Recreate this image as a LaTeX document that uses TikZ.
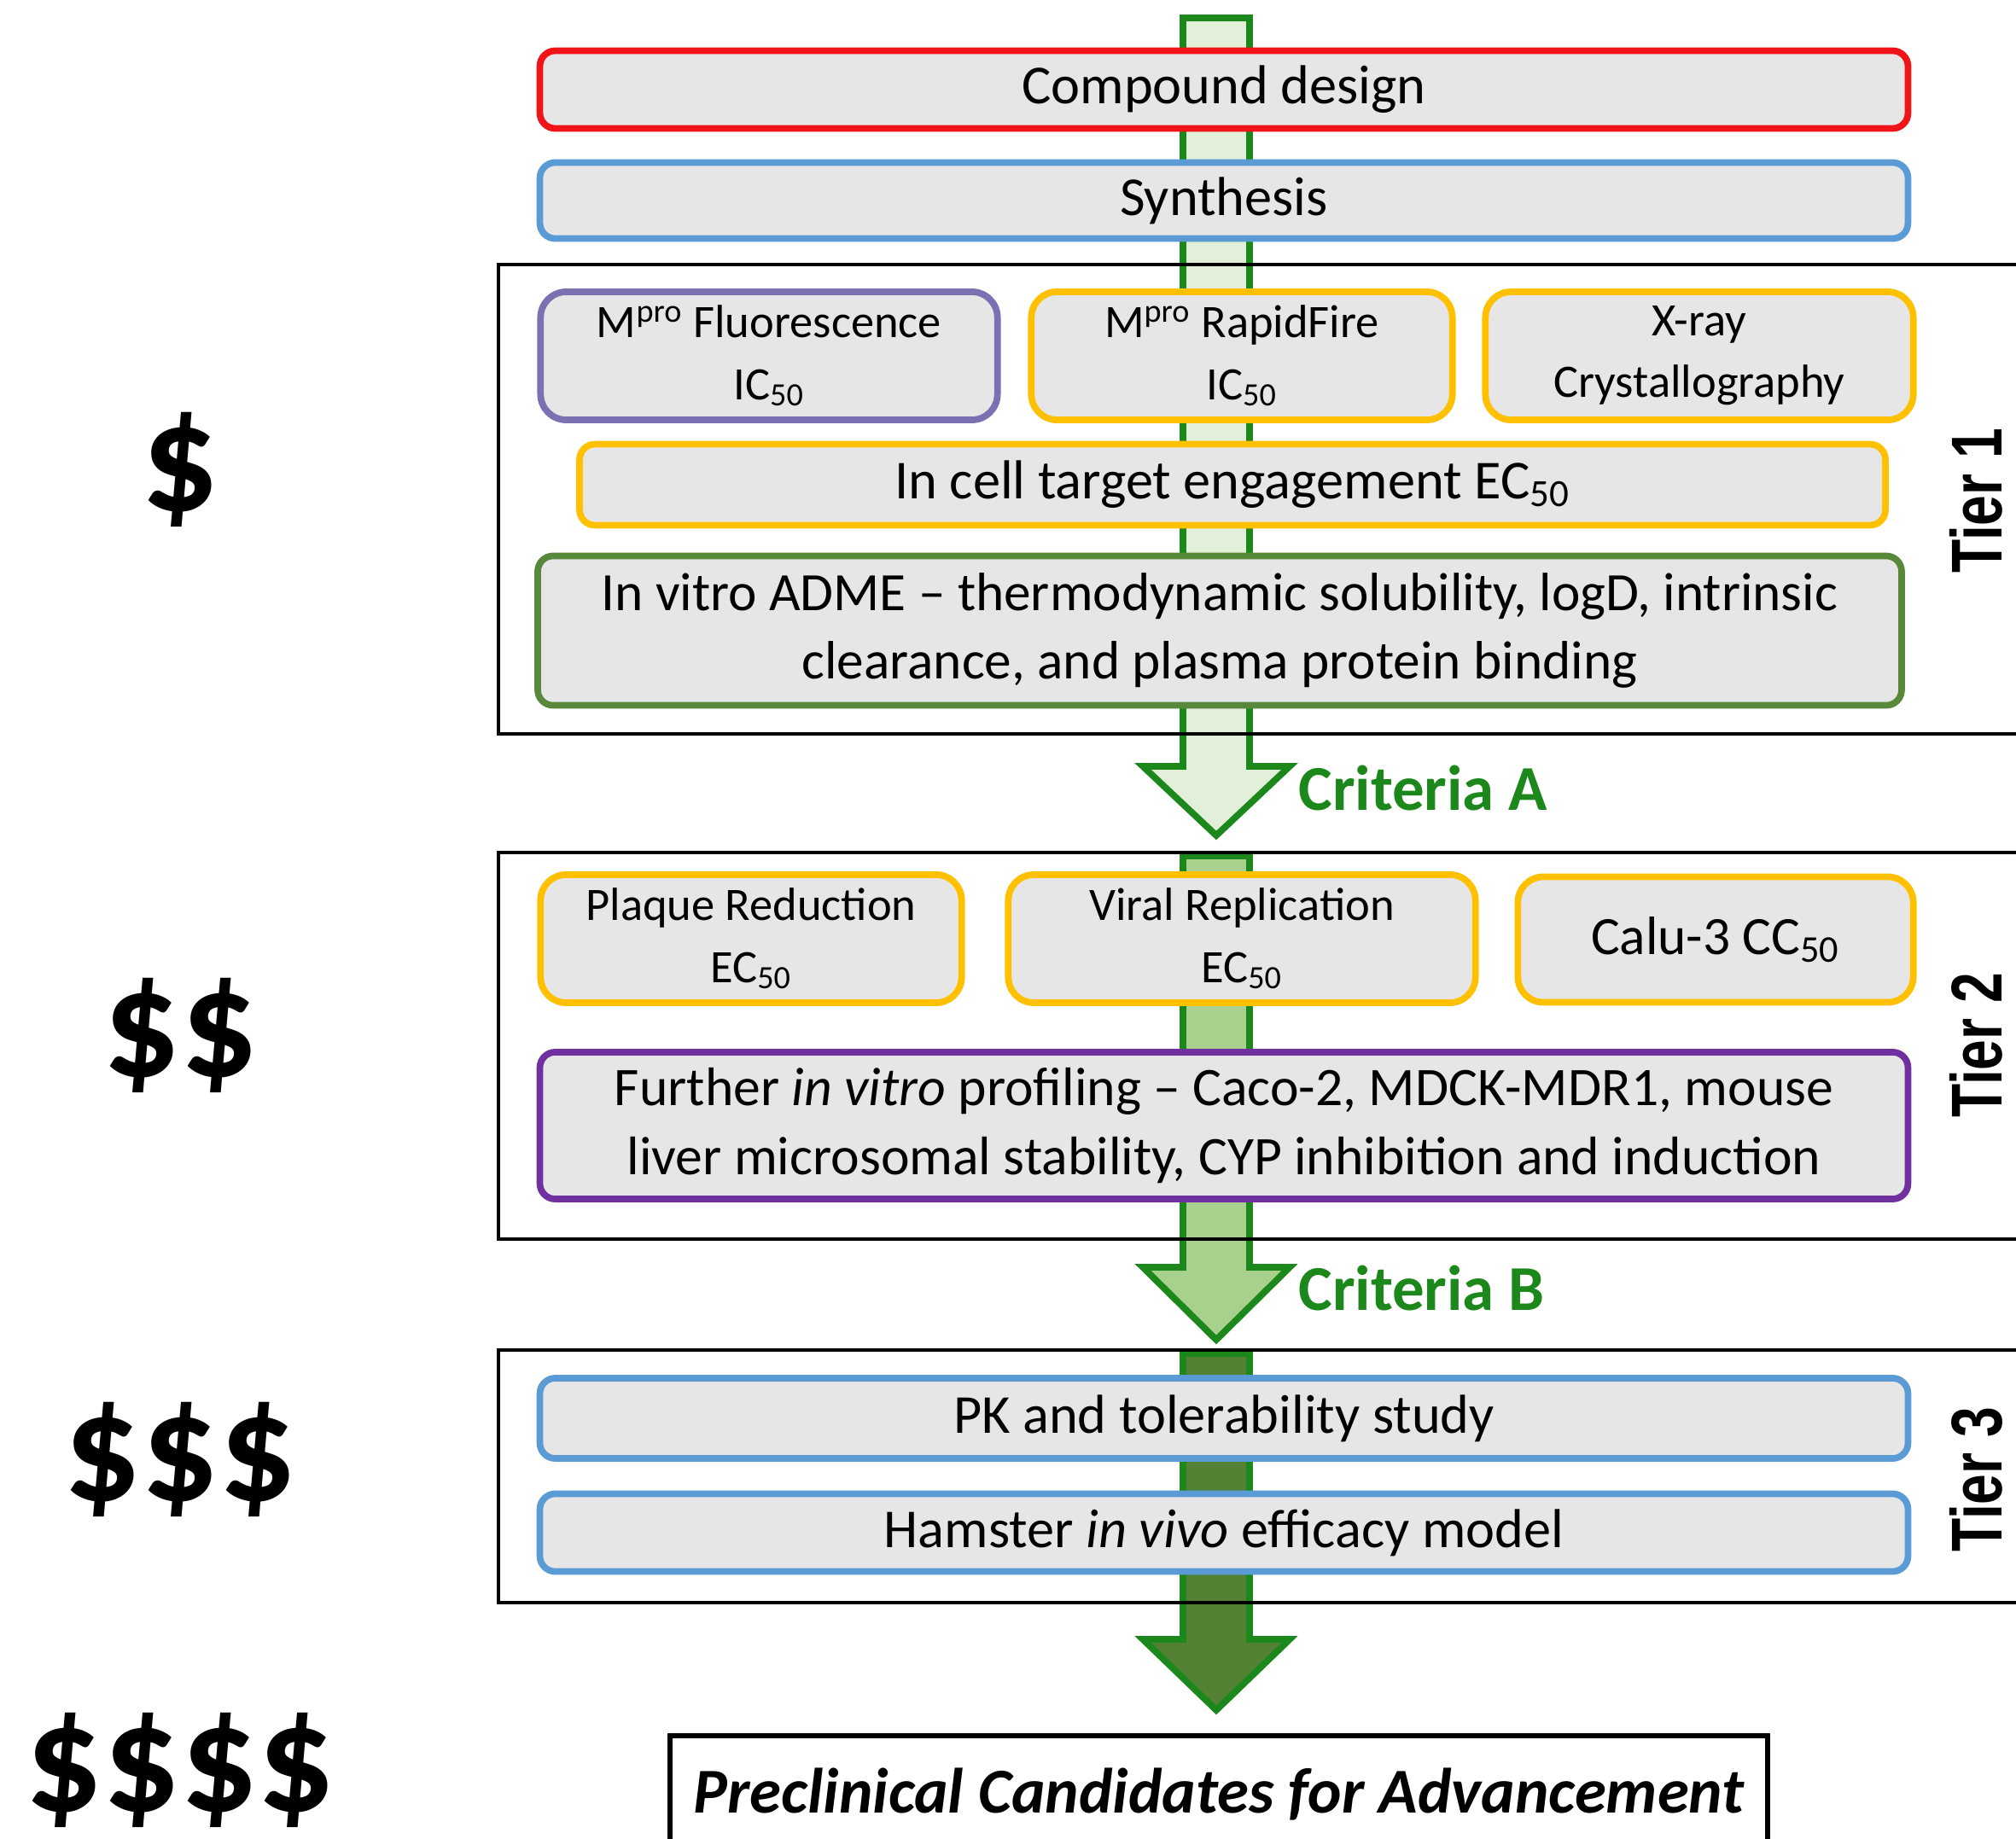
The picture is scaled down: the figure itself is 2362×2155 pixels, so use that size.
\documentclass[tikz,border=0pt]{standalone}
\usepackage{fontspec}
\setmainfont{Carlito}
\newfontfamily\tierfont[FakeStretch=0.76]{Liberation Sans}

\definecolor{boxfill}{RGB}{231,230,230}
\definecolor{designred}{RGB}{240,20,24}
\definecolor{skyblue}{RGB}{91,155,213}
\definecolor{lavender}{RGB}{124,112,178}
\definecolor{amber}{RGB}{255,192,0}
\definecolor{admegreen}{RGB}{88,136,58}
\definecolor{plum}{RGB}{112,48,160}
\definecolor{arrowgreen}{RGB}{28,136,28}
\definecolor{paleshaft}{RGB}{226,240,217}
\definecolor{midshaft}{RGB}{169,209,142}
\definecolor{darkshaft}{RGB}{84,130,53}

\tikzset{
  stage/.style={draw, line width=2.2pt, fill=boxfill, rounded corners=0.18cm,
    align=center, inner sep=0pt, font=\fontsize{18.3}{23}\selectfont},
  assay/.style={stage, rounded corners=0.3cm, font=\fontsize{15.5}{20.5}\selectfont},
  tierbox/.style={draw, line width=1.2pt},
  tierlabel/.style={rotate=90, font=\tierfont\bfseries\fontsize{24}{24}\selectfont},
  cost/.style={font=\bfseries\fontsize{51}{51}\selectfont},
  criteria/.style={anchor=west, text=arrowgreen, font=\bfseries\fontsize{21.3}{22}\selectfont},
  flow/.style={draw=arrowgreen, line width=2.2pt, line join=miter}
}

\begin{document}
\begin{tikzpicture}[x=0.01cm, y=-0.01cm]
      \useasboundingbox (0,0) rectangle (2362,2155);

      % Arrow through all stages
      \filldraw[flow, fill=paleshaft] (1386,21) -- (1464,21) -- (1464,898) -- (1511,898)
        -- (1425,979) -- (1339,898) -- (1386,898) -- cycle;
      \coordinate (headA) at (1511,898);
      \filldraw[flow, fill=midshaft] (1386,1003) -- (1464,1003) -- (1464,1485) -- (1511,1485)
        -- (1425,1570) -- (1339,1485) -- (1386,1485) -- cycle;
      \coordinate (headB) at (1511,1485);
      \filldraw[flow, fill=darkshaft] (1386,1586) -- (1464,1586) -- (1464,1921) -- (1511,1921)
        -- (1425,2004) -- (1339,1921) -- (1386,1921) -- cycle;

      % Tier frames
      \draw[tierbox] (584,310) rectangle (2400,860);
      \draw[tierbox] (584,999) rectangle (2400,1452);
      \draw[tierbox] (584,1582) rectangle (2400,1878);

      % Design and synthesis
      \node[stage, draw=designred, minimum width=16.02cm, minimum height=0.91cm] (design) at (1434,105) {Compound design};
      \node[stage, draw=skyblue, minimum width=16.02cm, minimum height=0.89cm] (synth) at (1434,235) {Synthesis};

      % Tier 1
      \node[assay, draw=lavender, minimum width=5.35cm, minimum height=1.50cm] (fluor) at (901,417) {M\textsuperscript{pro} Fluorescence\\IC\textsubscript{50}};
      \node[assay, draw=amber, minimum width=4.93cm, minimum height=1.50cm] (rapid) at (1455,417) {M\textsuperscript{pro} RapidFire\\IC\textsubscript{50}};
      \node[assay, draw=amber, minimum width=5.01cm, minimum height=1.50cm] (xray) at (1991,417) {X-ray\\Crystallography};
      \node[stage, draw=amber, minimum width=15.29cm, minimum height=0.95cm] (cell) at (1444,568) {In cell target engagement EC\textsubscript{50}};
      \node[stage, draw=admegreen, minimum width=15.97cm, minimum height=1.75cm, font=\fontsize{18}{23}\selectfont] (adme) at (1429,739) {In vitro ADME – thermodynamic solubility, logD, intrinsic\\clearance, and plasma protein binding};
      \node[tierlabel] (tier1) at (2315,587) {Tier 1};

      % Criteria A
      \node[criteria] (critA) at ([xshift=-0.02cm]headA |- 0,923) {Criteria A};

      % Tier 2
      \node[assay, draw=amber, minimum width=4.93cm, minimum height=1.50cm] (plaque) at (880,1100) {Plaque Reduction\\EC\textsubscript{50}};
      \node[assay, draw=amber, minimum width=5.47cm, minimum height=1.50cm] (viral) at (1455,1100) {Viral Replication\\EC\textsubscript{50}};
      \node[assay, draw=amber, minimum width=4.63cm, minimum height=1.47cm, font=\fontsize{18}{22}\selectfont] (calu) at (2010,1101) {Calu-3 CC\textsubscript{50}};
      \node[stage, draw=plum, minimum width=16.02cm, minimum height=1.72cm, font=\fontsize{18.1}{23}\selectfont] (profile) at (1434,1319) {Further \textit{in vitro} profiling – Caco-2, MDCK-MDR1, mouse\\liver microsomal stability, CYP inhibition and induction};
      \node[tierlabel] (tier2) at (2315,1225) {Tier 2};

      % Criteria B
      \node[criteria] (critB) at ([xshift=-0.02cm]headB |- 0,1509) {Criteria B};

      % Tier 3
      \node[stage, draw=skyblue, minimum width=16.02cm, minimum height=0.94cm] (pk) at (1434,1662) {PK and tolerability study};
      \node[stage, draw=skyblue, minimum width=16.02cm, minimum height=0.91cm] (hamster) at (1434,1796) {Hamster \textit{in vivo} efficacy model};
      \node[tierlabel] (tier3) at (2315,1734) {Tier 3};

      % Outcome
      \node[draw, line width=1.8pt, fill=white, anchor=north, minimum width=12.85cm, minimum height=1.36cm,
        font=\bfseries\itshape\fontsize{21.3}{24}\selectfont] (candidates) at (1428,2031) {Preclinical Candidates for Advancement};

      % Cost
      \node[cost] (cost1) at (211,550) {\$};
      \node[cost] (cost2) at (211,1213) {\$\$};
      \node[cost] (cost3) at (211,1710) {\$\$\$};
      \node[cost] (cost4) at (211,2074) {\$\$\$\$};
    \end{tikzpicture}
\end{document}
